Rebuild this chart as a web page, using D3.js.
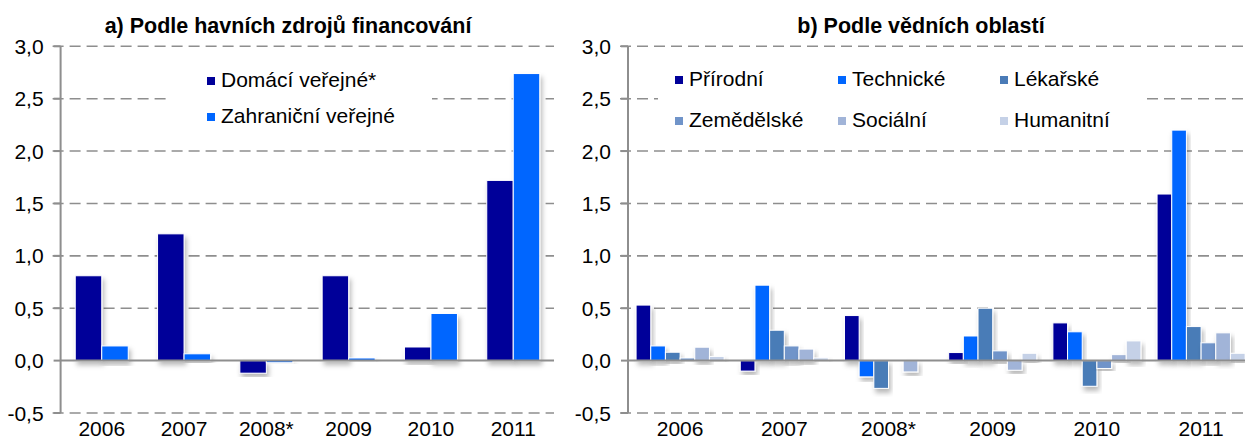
<!DOCTYPE html>
<html>
<head>
<meta charset="utf-8">
<script src="https://cdn.jsdelivr.net/npm/d3@7"></script>
<style>
  body { margin: 0; background: #fff; }
  svg { display: block; font-family: "Liberation Sans", Arial, sans-serif; }
  .grid { stroke: #8e8e8e; stroke-width: 1.6; stroke-dasharray: 11 6; }
  .axis-line { stroke: #8e8e8e; stroke-width: 2; }
  .tick-label { font-size: 21px; fill: #000; }
  .title { font-size: 21.5px; font-weight: bold; fill: #000; }
  .legend-label { font-size: 21px; fill: #000; }
</style>
</head>
<body>
<svg id="svg" width="1245" height="441"></svg>
<script>
/* global d3 */

const years = ["2006", "2007", "2008*", "2009", "2010", "2011"];
const yTicks = [-0.5, 0, 0.5, 1, 1.5, 2, 2.5, 3];

// a) by source of funding
const sourceNames = ["Domácí veřejné*", "Zahraniční veřejné"];
const domaci = [0.81, 1.21, -0.12, 0.81, 0.13, 1.72];
const zahranicni = [0.14, 0.065, -0.02, 0.025, 0.45, 2.74];

// b) by field of science
const fieldNames = ["Přírodní", "Technické", "Lékařské", "Zemědělské", "Sociální", "Humanitní"];
const prirodni = [0.53, -0.1, 0.43, 0.077, 0.36, 1.59];
const technicke = [0.14, 0.72, -0.155, 0.235, 0.275, 2.2];
const lekarske = [0.08, 0.29, -0.265, 0.5, -0.245, 0.325];
const zemedelske = [0.025, 0.14, 0, 0.093, -0.075, 0.17];
const socialni = [0.128, 0.11, -0.108, -0.092, 0.057, 0.265];
const humanitni = [0.04, 0.026, 0, 0.07, 0.188, 0.07];

const sourceColors = ["#000099", "#0066ff"];
const fieldColors = ["#000099", "#0066ff", "#4a7bb7", "#7094c9", "#a1b4d8", "#c5d1e7"];

const locale = d3.formatLocale({ decimal: ",", thousands: " ", grouping: [3], currency: ["", ""], minus: "-" });
const fmt = locale.format(".1f");

const svg = d3.select("#svg");

svg.append("defs")
  .append("filter")
  .attr("id", "shadow")
  .attr("x", "-30%").attr("y", "-30%").attr("width", "160%").attr("height", "160%")
  .append("feDropShadow")
  .attr("dx", 2).attr("dy", 4).attr("stdDeviation", 2.4)
  .attr("flood-color", "#000").attr("flood-opacity", 0.28);

const y = d3.scaleLinear().domain([-0.5, 3]).range([413, 46.3]);

const drawPanel = cfg => {
  const g = svg.append("g");

  const x0 = d3.scaleBand()
    .domain(years)
    .range([cfg.x0, cfg.x1])
    .paddingInner(cfg.pad)
    .paddingOuter(cfg.pad / 2);

  const x1 = d3.scaleBand()
    .domain(d3.range(cfg.series.length))
    .range([0, x0.bandwidth()]);

  // gridlines
  g.selectAll(".grid")
    .data(yTicks.filter(t => t !== 0))
    .join("line")
    .attr("class", "grid")
    .attr("x1", cfg.x0 - 8)
    .attr("x2", cfg.gridEnd)
    .attr("y1", d => y(d))
    .attr("y2", d => y(d));

  // legend background covers gridline
  g.append("rect")
    .attr("x", cfg.legendBox[0])
    .attr("y", cfg.legendBox[1])
    .attr("width", cfg.legendBox[2] - cfg.legendBox[0])
    .attr("height", cfg.legendBox[3] - cfg.legendBox[1])
    .attr("fill", "#fff");

  // bars
  const rows = years.map((yr, i) => ({ yr, vals: cfg.series.map(s => s[i]) }));
  g.selectAll(".grp")
    .data(rows)
    .join("g")
    .attr("class", "grp")
    .attr("transform", d => `translate(${x0(d.yr)},0)`)
    .selectAll("rect")
    .data(d => d.vals.map((v, k) => ({ v, k })))
    .join("rect")
    .attr("x", d => x1(d.k))
    .attr("width", x1.bandwidth())
    .attr("y", d => y(Math.max(0, d.v)))
    .attr("height", d => Math.abs(y(d.v) - y(0)))
    .attr("fill", d => cfg.colors[d.k])
    .attr("stroke", "#fff")
    .attr("stroke-width", 1)
    .attr("filter", "url(#shadow)");

  // zero line
  g.append("line")
    .attr("class", "axis-line")
    .attr("x1", cfg.x0)
    .attr("x2", cfg.gridEnd)
    .attr("y1", y(0))
    .attr("y2", y(0));

  // y axis line and ticks
  g.append("line")
    .attr("class", "axis-line")
    .attr("x1", cfg.x0).attr("x2", cfg.x0)
    .attr("y1", y(3)).attr("y2", y(-0.5));
  g.selectAll(".tk")
    .data(yTicks)
    .join("line")
    .attr("class", "axis-line tk")
    .attr("x1", cfg.x0 - 7).attr("x2", cfg.x0)
    .attr("y1", d => y(d)).attr("y2", d => y(d));

  g.selectAll(".ylab")
    .data(yTicks)
    .join("text")
    .attr("class", "tick-label ylab")
    .attr("x", cfg.x0 - 17)
    .attr("y", d => y(d))
    .attr("dy", "0.36em")
    .attr("text-anchor", "end")
    .text(d => fmt(d));

  g.selectAll(".xlab")
    .data(years)
    .join("text")
    .attr("class", "tick-label xlab")
    .attr("x", d => x0(d) + x0.bandwidth() / 2)
    .attr("y", 436)
    .attr("text-anchor", "middle")
    .text(d => d);

  g.append("text")
    .attr("class", "title")
    .attr("x", cfg.titleX)
    .attr("y", 33)
    .attr("text-anchor", "middle")
    .text(cfg.title);

  // legend
  const items = g.selectAll(".leg")
    .data(cfg.names)
    .join("g")
    .attr("class", "leg")
    .attr("transform", (d, i) => {
      const col = i % cfg.legendCols;
      const row = Math.floor(i / cfg.legendCols);
      return `translate(${cfg.legendX[col]},${cfg.legendY[row]})`;
    });
  items.append("rect")
    .attr("x", 0).attr("y", -10)
    .attr("width", 8).attr("height", 8)
    .attr("fill", (d, i) => cfg.colors[i]);
  items.append("text")
    .attr("class", "legend-label")
    .attr("x", 14)
    .attr("y", 0)
    .text(d => d);
};

drawPanel({
  x0: 60.6, x1: 554.4, pad: 0.356, gridEnd: 554,
  series: [domaci, zahranicni],
  colors: sourceColors,
  names: sourceNames,
  title: "a) Podle havních zdrojů financování",
  titleX: 288,
  legendBox: [170, 58, 432, 140],
  legendCols: 1,
  legendX: [207],
  legendY: [87, 123]
});

drawPanel({
  x0: 628, x1: 1253.2, pad: 0.155, gridEnd: 1245,
  series: [prirodni, technicke, lekarske, zemedelske, socialni, humanitni],
  colors: fieldColors,
  names: fieldNames,
  title: "b) Podle vědních oblastí",
  titleX: 921,
  legendBox: [658, 58, 1145, 140],
  legendCols: 3,
  legendX: [675, 838, 1000],
  legendY: [86, 127]
});
</script>
</body>
</html>
